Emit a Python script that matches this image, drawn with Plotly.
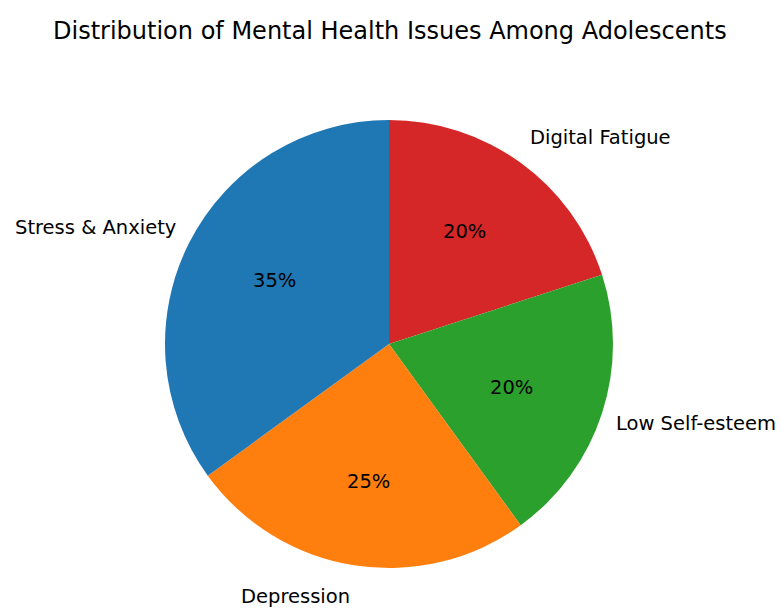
import math
import plotly.graph_objects as go

categories = ["Stress & Anxiety", "Depression", "Low Self-esteem", "Digital Fatigue"]
values = [35, 25, 20, 20]
colors = ["#1f77b4", "#ff7f0e", "#2ca02c", "#d62728"]
title = "Distribution of Mental Health Issues Among Adolescents"

W, H = 781, 609
cx, cy = 389, 344          # pie centre in pixels (from top-left)
r = 224                    # pie radius in pixels
rx, ry = 215, 232.5        # label placement radii
FONT = "DejaVu Sans"

fig = go.Figure()
# matplotlib draws counter-clockwise from 12 o'clock; plotly's clockwise
# mode starts exactly at 12 o'clock, so feed the slices in reverse order.
fig.add_trace(go.Pie(
    labels=categories[::-1], values=values[::-1], sort=False,
    direction="clockwise", rotation=0,
    marker=dict(colors=colors[::-1], line=dict(width=0)),
    textinfo="none", hoverinfo="label+percent", showlegend=False,
    domain=dict(x=[(cx - r) / W, (cx + r) / W],
                y=[(H - cy - r) / H, (H - cy + r) / H]),
))

total = sum(values)
ann = []
start = 90.0
for lab, v in zip(categories, values):
    span = 360.0 * v / total
    mid = math.radians(start + span / 2)
    start += span
    c, s = math.cos(mid), math.sin(mid)
    # outer label (labeldistance 1.1)
    lx = cx + 1.1 * rx * c
    ly = cy - 1.1 * ry * s
    ann.append(dict(x=lx / W, y=1 - ly / H, xref="paper", yref="paper",
                    text=lab, showarrow=False,
                    xanchor="left" if c > 0 else "right", yanchor="middle",
                    font=dict(family=FONT, size=19.5, color="#000000")))
    # percent label (pctdistance 0.6)
    px = cx + 0.6 * rx * c
    py = cy - 0.6 * ry * s
    ann.append(dict(x=px / W, y=1 - py / H, xref="paper", yref="paper",
                    text=f"{round(100 * v / total)}%", showarrow=False,
                    xanchor="center", yanchor="middle",
                    font=dict(family=FONT, size=19.5, color="#000000")))

ann.append(dict(x=390 / W, y=1 - 31 / H, xref="paper", yref="paper",
                text=title, showarrow=False, xanchor="center", yanchor="middle",
                font=dict(family=FONT, size=24, color="#000000")))

fig.update_layout(width=W, height=H, margin=dict(l=0, r=0, t=0, b=0),
                  paper_bgcolor="white", plot_bgcolor="white",
                  annotations=ann)
fig.write_html("out.html")
